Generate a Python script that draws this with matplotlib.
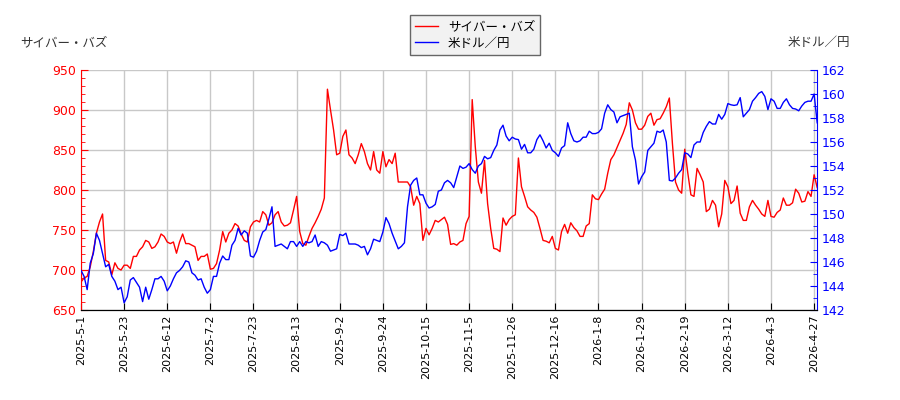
import numpy as np
import matplotlib
matplotlib.use("Agg")
import matplotlib.pyplot as plt
from matplotlib.ticker import MultipleLocator

plt.rcParams['font.family'] = ['DejaVu Sans', 'Noto Sans CJK JP']

# tick dates (every 14 trading days)
tick_labels = ['2025-5-1', '2025-5-23', '2025-6-12', '2025-7-2', '2025-7-23', '2025-8-13',
               '2025-9-2', '2025-9-24', '2025-10-15', '2025-11-5', '2025-11-26', '2025-12-16',
               '2026-1-8', '2026-1-29', '2026-2-19', '2026-3-12', '2026-4-3', '2026-4-27']

# サイバー・バズ stock price (daily)
cyberbuzz = [
    685, 690, 692, 704, 723, 746, 760, 770, 712, 710,
    694, 709, 702, 700, 706, 706, 702, 717, 717, 725,
    729, 737, 735, 727, 729, 735, 745, 742, 735, 733,
    735, 721, 735, 745, 733, 733, 731, 729, 712, 717,
    717, 720, 701, 702, 708, 725, 748, 735, 746, 750,
    758, 755, 745, 737, 735, 754, 760, 762, 760, 773,
    769, 756, 759, 769, 773, 760, 755, 756, 759, 775,
    792, 748, 733, 731, 742, 752, 759, 767, 776, 790,
    926, 900, 875, 844, 846, 867, 875, 844, 840, 833,
    844, 858, 848, 833, 825, 848, 825, 821, 848, 829,
    838, 833, 846, 810, 810, 810, 810, 804, 781, 792,
    783, 737, 752, 744, 752, 762, 760, 763, 766, 757,
    732, 733, 731, 735, 737, 758, 767, 913, 854, 810,
    796, 837, 783, 752, 727, 726, 723, 765, 756, 763,
    767, 769, 840, 804, 792, 779, 775, 772, 766, 752,
    737, 736, 734, 742, 727, 725, 748, 757, 746, 759,
    753, 749, 742, 742, 755, 758, 794, 789, 788, 795,
    801, 821, 838, 844, 853, 862, 871, 882, 909, 900,
    884, 876, 876, 881, 892, 896, 881, 888, 889, 896,
    904, 915, 858, 810, 800, 796, 851, 821, 794, 792,
    827, 819, 810, 773, 776, 787, 781, 754, 770, 812,
    804, 783, 787, 805, 771, 762, 762, 779, 787, 781,
    776, 770, 767, 787, 767, 766, 772, 775, 790, 781,
    781, 784, 801, 796, 785, 786, 798, 792, 819, 803,
]

# 米ドル／円 exchange rate (daily)
usdjpy = [
    145.3, 144.8, 143.7, 145.9, 146.7, 148.4, 147.8, 146.7, 145.6, 145.8,
    144.8, 144.4, 143.7, 143.9, 142.6, 143.1, 144.5, 144.7, 144.3, 143.9,
    142.7, 143.9, 142.9, 143.7, 144.6, 144.6, 144.8, 144.4, 143.6, 144.0,
    144.6, 145.1, 145.3, 145.6, 146.1, 146.0, 145.1, 144.9, 144.5, 144.6,
    143.9, 143.4, 143.7, 144.8, 144.8, 145.9, 146.5, 146.2, 146.2, 147.4,
    147.8, 148.8, 148.25, 148.6, 148.4, 146.5, 146.4, 146.9, 147.8, 148.5,
    148.7, 149.6, 150.6, 147.3, 147.4, 147.5, 147.3, 147.1, 147.7, 147.7,
    147.3, 147.7, 147.3, 147.7, 147.6, 147.7, 148.25, 147.3, 147.7, 147.6,
    147.4, 146.9, 147.0, 147.1, 148.3, 148.2, 148.4, 147.5, 147.5, 147.5,
    147.4, 147.2, 147.3, 146.6, 147.1, 147.9, 147.8, 147.7, 148.5, 149.7,
    149.2, 148.4, 147.75, 147.1, 147.3, 147.6, 150.6, 152.4, 152.8, 153.0,
    151.6, 151.6, 150.9, 150.5, 150.6, 150.8, 151.9, 152.0, 152.6, 152.8,
    152.6, 152.2, 153.1, 154.0, 153.8, 153.9, 154.2, 153.7, 153.4, 154.0,
    154.2, 154.8, 154.6, 154.7, 155.3, 155.75, 157.0, 157.4, 156.5, 156.1,
    156.4, 156.25, 156.2, 155.4, 155.8, 155.1, 155.1, 155.4, 156.2, 156.6,
    156.1, 155.5, 155.9, 155.3, 155.1, 154.8, 155.5, 155.7, 157.6, 156.7,
    156.1, 156.0, 156.1, 156.4, 156.4, 156.9, 156.7, 156.7, 156.8, 157.1,
    158.4, 159.1, 158.7, 158.5, 157.6, 158.1, 158.2, 158.3, 158.4, 155.6,
    154.5, 152.5, 153.1, 153.5, 155.3, 155.6, 155.9, 156.9, 156.8, 157.0,
    156.0, 152.8, 152.75, 153.0, 153.4, 153.7, 155.1, 155.0, 154.7, 155.75,
    156.0, 156.0, 156.8, 157.3, 157.7, 157.5, 157.5, 158.3, 157.9, 158.3,
    159.2, 159.1, 159.05, 159.1, 159.7, 158.1, 158.4, 158.7, 159.4, 159.7,
    160.05, 160.2, 159.8, 158.7, 159.6, 159.4, 158.8, 158.8, 159.3, 159.6,
    159.1, 158.8, 158.75, 158.6, 159.0, 159.3, 159.4, 159.4, 160.0, 157.6,
]

x = np.arange(len(cyberbuzz))
tick_pos = np.arange(0, 14 * len(tick_labels), 14)

fig = plt.figure(figsize=(9, 4), dpi=100)
ax1 = fig.add_axes([0.09, 0.225, 0.818, 0.60])
ax2 = ax1.twinx()

l1, = ax1.plot(x, cyberbuzz, color='red', lw=1.0, label='サイバー・バズ')
l2, = ax2.plot(x, usdjpy, color='blue', lw=1.0, label='米ドル／円')

ax1.set_xlim(0, len(x) - 1)
ax1.set_ylim(650, 950)
ax2.set_ylim(142, 162)

ax1.set_xticks(tick_pos)
ax1.set_xticklabels(tick_labels, rotation=90, fontsize=8)
ax1.yaxis.set_major_locator(MultipleLocator(50))
ax1.yaxis.set_minor_locator(MultipleLocator(10))
ax2.yaxis.set_major_locator(MultipleLocator(2))
ax2.yaxis.set_minor_locator(MultipleLocator(1))

ax1.grid(True, color='#c8c8c8', lw=1)
ax1.set_axisbelow(True)

ax1.tick_params(axis='y', which='both', direction='in', colors='red', labelsize=9)
ax1.tick_params(axis='y', which='major', length=5)
ax1.tick_params(axis='y', which='minor', length=3)
ax1.tick_params(axis='x', direction='in', length=5)
ax2.tick_params(axis='y', which='both', direction='in', colors='blue', labelsize=9)
ax2.tick_params(axis='y', which='major', length=5)
ax2.tick_params(axis='y', which='minor', length=3)

ax1.spines['top'].set_visible(False)
ax2.spines['top'].set_visible(False)
ax1.spines['right'].set_visible(False)
ax2.spines['left'].set_visible(False)
ax1.spines['left'].set_color('red')
ax2.spines['right'].set_color('blue')

fig.text(0.022, 0.885, 'サイバー・バズ', fontsize=9, color='#333333')
fig.text(0.945, 0.885, '米ドル／円', fontsize=9, color='#333333', ha='right')

leg = fig.legend([l1, l2], ['サイバー・バズ', '米ドル／円'], loc='upper center',
                 bbox_to_anchor=(0.528, 0.978), fancybox=False, fontsize=9,
                 facecolor='#f2f2f2', edgecolor='#666666', framealpha=1,
                 handlelength=1.8, borderpad=0.4, labelspacing=0.3)

fig.savefig('out.png', dpi=100)
